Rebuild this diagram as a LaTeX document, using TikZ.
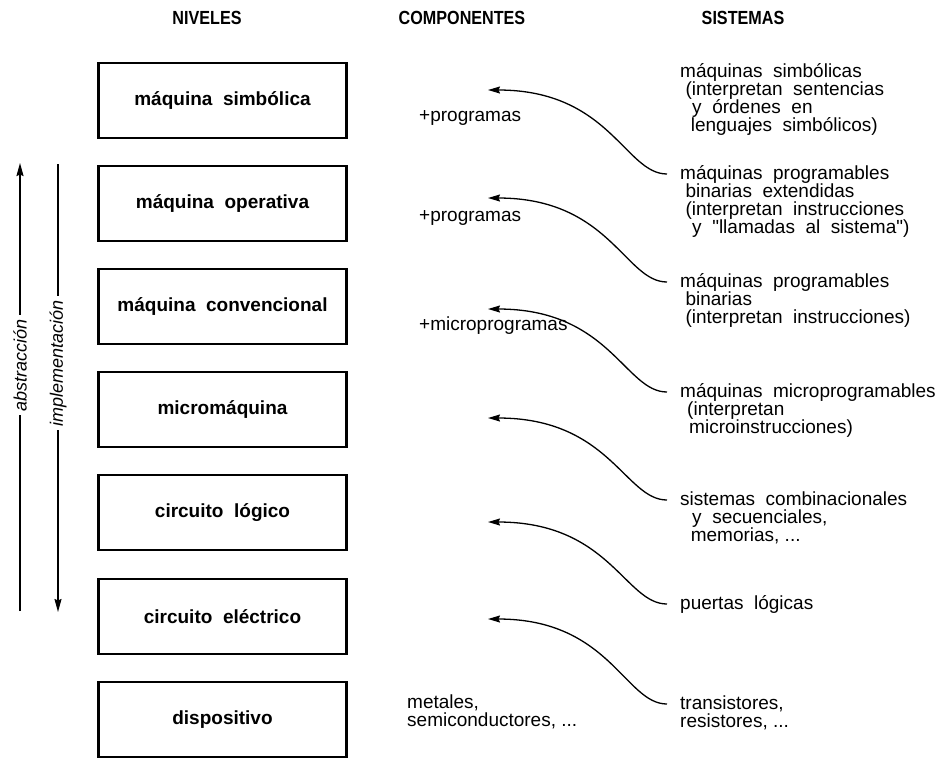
\documentclass[tikz,border=0pt]{standalone}
\usepackage{fontspec}
\setmainfont{Liberation Sans}
\usepackage{graphicx}
\usetikzlibrary{arrows.meta}
\newcommand\Ln[2][0]{\hbox{\kern#1pt #2}}
\newcommand\Stack[1]{\vtop{\baselineskip=18pt\lineskiplimit=-100pt\lineskip=0pt #1}}
\newcommand\dq{\XeTeXglyph\XeTeXcharglyph"22\relax}
\tikzset{
  lvl/.style={draw, line width=2.6pt, minimum width=248pt, minimum height=75pt, inner sep=0pt,
    font=\bfseries\fontsize{19}{18}\selectfont},
  txt/.style={anchor=base west, inner sep=0pt, font=\fontsize{19}{18}\selectfont},
  hdr/.style={inner sep=0pt, font=\bfseries\fontsize{19}{18}\selectfont},
  link/.style={line width=1.3pt, -{Stealth[length=12pt,width=7pt,inset=1.5pt]}},
  side/.style={line width=1.5pt, -{Stealth[length=13pt,width=7pt,inset=1.5pt]}},
  sidelbl/.style={rotate=90, fill=white, inner sep=4pt, font=\itshape\fontsize{18}{18}\selectfont}
}
\begin{document}
\begin{tikzpicture}[x=1pt,y=-1pt]
\useasboundingbox (0,0) rectangle (941,758);
% headers
\node[hdr] (h1) at (207,18) {\scalebox{0.85}[1]{NIVELES}};
\node[hdr] (h2) at (462,18) {\scalebox{0.85}[1]{COMPONENTES}};
\node[hdr] (h3) at (743,18) {\scalebox{0.85}[1]{SISTEMAS}};
% levels
\node[lvl] (l1) at (222.5,100.5) {máquina\ \ simbólica};
\node[lvl] (l2) at (222.5,203.5) {máquina\ \ operativa};
\node[lvl] (l3) at (222.5,306.5) {máquina\ \ convencional};
\node[lvl] (l4) at (222.5,409.5) {micromáquina};
\node[lvl] (l5) at (222.5,512.5) {circuito\ \ lógico};
\node[lvl] (l6) at (222.5,616.5) {circuito\ \ eléctrico};
\node[lvl] (l7) at (222.5,719.5) {dispositivo};
% side arrows
\coordinate (ab) at (20,611);
\coordinate (at) at (20,163);
\coordinate (it) at (58,164);
\coordinate (ib) at (58,612);
\draw[side] (ab) -- (at);
\draw[side] (it) -- (ib);
\node[sidelbl] (abs) at (20,365) {abstracción};
\node[sidelbl] (imp) at (58,363) {implementación};
% components
\node[txt] (c1) at (419,121) {+programas};
\node[txt] (c2) at (419,221) {+programas};
\node[txt] (c3) at (419,330) {+microprogramas};
\node[txt] (c4) at (407,708) {\Stack{\Ln{metales,}\Ln{semiconductores, ...}}};
% systems
\node[txt] (s1) at (680,77) {\Stack{\Ln{máquinas\ \ simbólicas}\Ln[5.3]{(interpretan\ \ sentencias}\Ln[12]{y\ \ órdenes\ \ en}\Ln[10.6]{lenguajes\ \ simbólicos)}}};
\node[txt] (s2) at (680,179) {\Stack{\Ln{máquinas\ \ programables}\Ln[5.3]{binarias\ \ extendidas}\Ln[5.3]{(interpretan\ \ instrucciones}\Ln[12]{y\ \ \dq llamadas\ \ al\ \ sistema\dq)}}};
\node[txt] (s3) at (680,287) {\Stack{\Ln{máquinas\ \ programables}\Ln[5.3]{binarias}\Ln[5.3]{(interpretan\ \ instrucciones)}}};
\node[txt] (s4) at (680,397) {\Stack{\Ln{máquinas\ \ microprogramables}\Ln[7]{(interpretan}\Ln[9]{microinstrucciones)}}};
\node[txt] (s5) at (680,505) {\Stack{\Ln{sistemas\ \ combinacionales}\Ln[12]{y\ \ secuenciales,}\Ln[10.6]{memorias, ...}}};
\node[txt] (s6) at (680,609) {puertas\ \ lógicas};
\node[txt] (s7) at (680,709) {\Stack{\Ln{transistores,}\Ln{resistores, ...}}};
% arrow tips
\coordinate (t1) at (488,90);
\coordinate (t2) at (488,198);
\coordinate (t3) at (488,309);
\coordinate (t4) at (488,418);
\coordinate (t5) at (488,522);
\coordinate (t6) at (488,619);
% curves
\draw[link] ([shift={(-13,-5)}]s2.base west) .. controls +(-42,0) and +(122,0) .. (t1);
\draw[link] ([shift={(-13,-5)}]s3.base west) .. controls +(-42,0) and +(122,0) .. (t2);
\draw[link] ([shift={(-13,-5)}]s4.base west) .. controls +(-42,0) and +(122,0) .. (t3);
\draw[link] ([shift={(-13,-5)}]s5.base west) .. controls +(-42,0) and +(122,0) .. (t4);
\draw[link] ([shift={(-13,-5)}]s6.base west) .. controls +(-42,0) and +(122,0) .. (t5);
\draw[link] ([shift={(-13,-5)}]s7.base west) .. controls +(-42,0) and +(122,0) .. (t6);
\end{tikzpicture}
\end{document}
